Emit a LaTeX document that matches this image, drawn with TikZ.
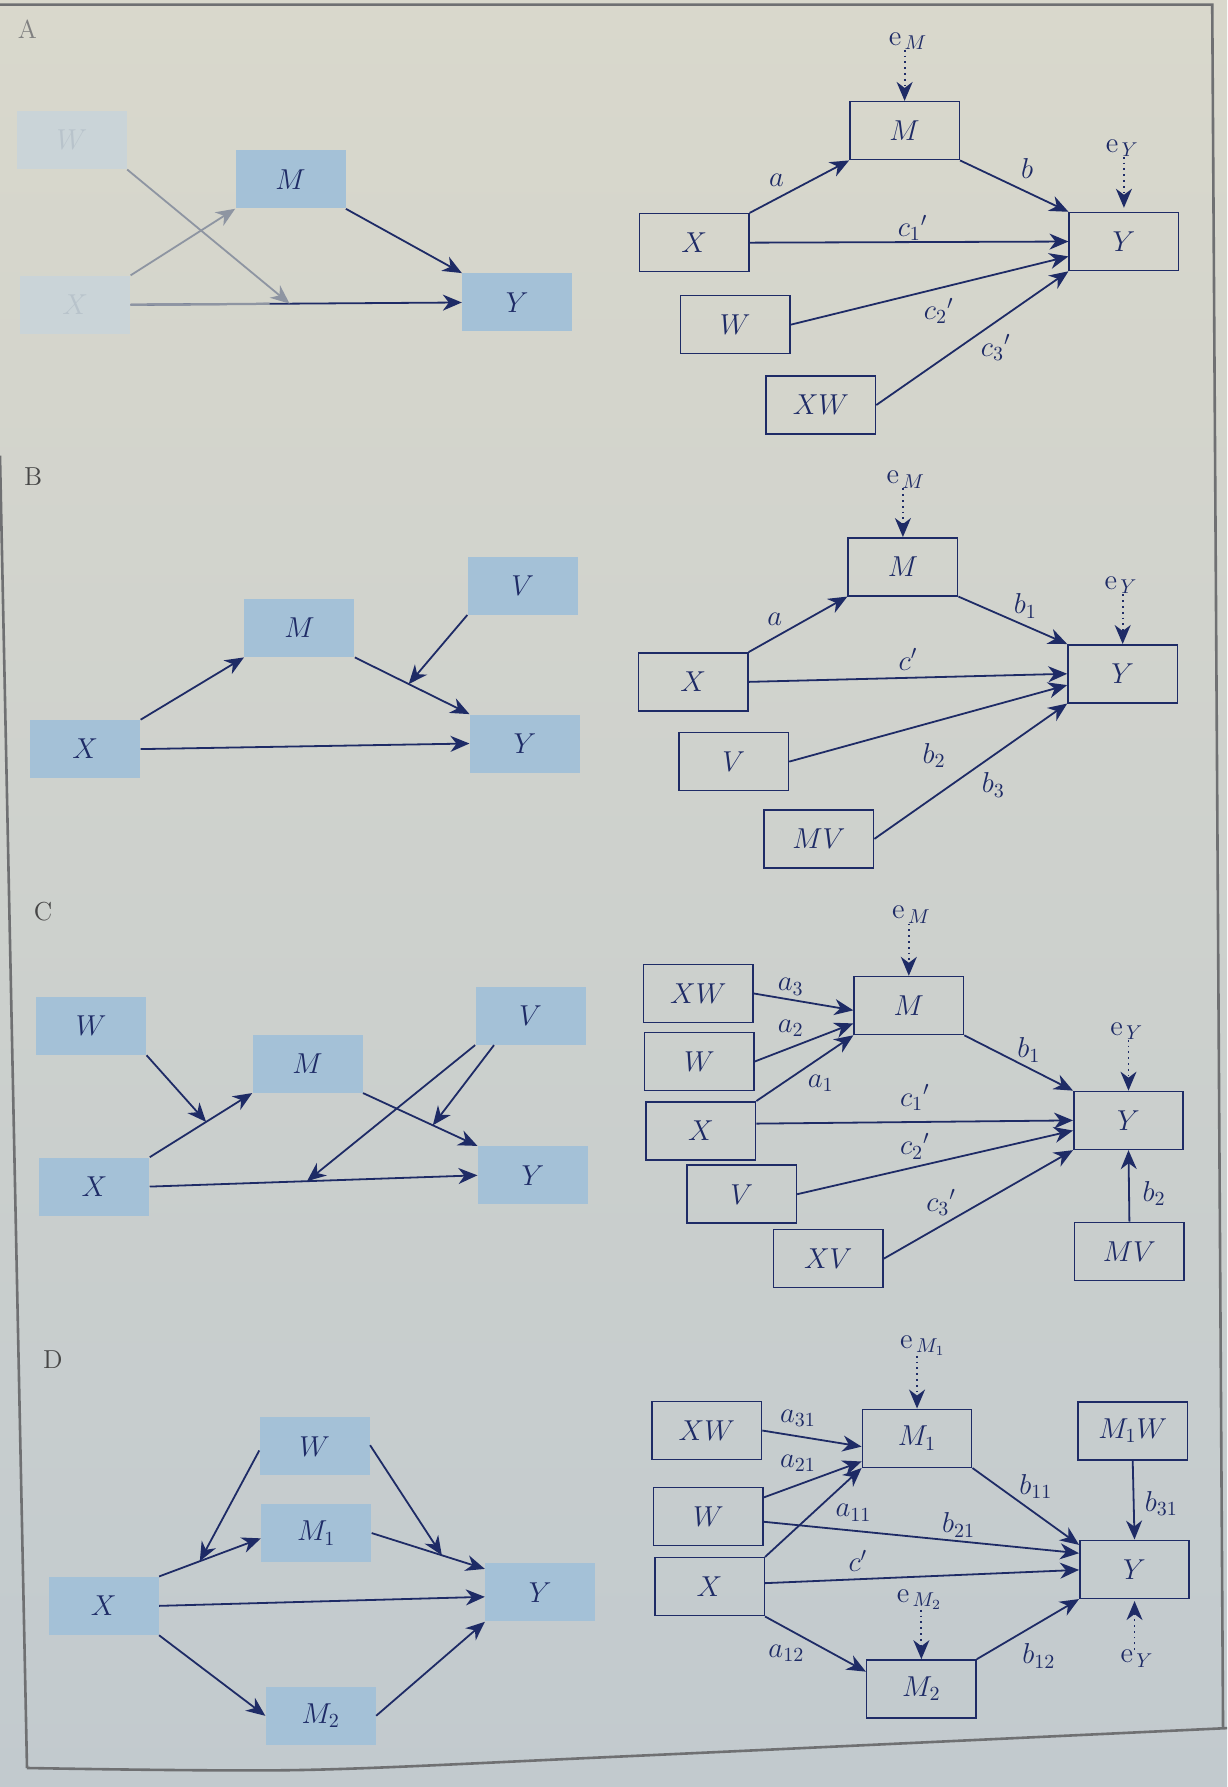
\documentclass[tikz,border=0pt]{standalone}
\usetikzlibrary{arrows.meta,calc}
\definecolor{ink}{HTML}{1E2B66}
\definecolor{boxblue}{HTML}{A4C1D7}
\definecolor{paperTop}{HTML}{D9D8CC}
\definecolor{paperBot}{HTML}{C2CACE}
\definecolor{framegray}{HTML}{6F7072}
\definecolor{fadebox}{HTML}{CAD4D8}
\definecolor{fadetext}{HTML}{B8C3CB}
\definecolor{fadeline}{HTML}{8E95A2}
\begin{document}
\begin{tikzpicture}[x=0.5696pt,y=-0.5696pt,
  every node/.style={font=\Large, text=ink},
  bluebox/.style={fill=boxblue, minimum width=55pt, minimum height=29pt, inner sep=0pt},
  linebox/.style={draw=ink, line width=0.75pt, minimum width=54.7pt, minimum height=29pt, inner sep=0pt},
  arr/.style={draw=ink, line width=0.9pt, -{Stealth[length=9.5pt,width=8pt,inset=3pt]}},
  darr/.style={arr, dotted},
  lab/.style={inner sep=0pt},
  panel/.style={font=\fontsize{13}{15}\selectfont, text=black!72}
]
% background and page frame
\shade[top color=paperTop, bottom color=paperBot] (0,0) rectangle (1077,1568.5);
\useasboundingbox (0,0) rectangle (1077,1568.5);
\draw[framegray, line width=1.3pt] (0,400) -- (23.7,1551.8);
\draw[framegray, line width=1.3pt] (0,4) -- (1064,4) -- (1073.5,1517);
\draw[framegray, line width=1.3pt] plot[smooth] coordinates {(23.7,1551.8) (263,1553.6) (539,1542) (1077,1516.8)};

% ---------------- Panel A ----------------
\node[panel, text=black!50] (labA) at (24,26) {A};
\node[bluebox, fill=fadebox, text=fadetext] (AW) at (63,123) {$W$};
\node[bluebox] (AM) at (255,157.5) {$M$};
\node[bluebox, fill=fadebox, text=fadetext] (AX) at (66,267.5) {$X$};
\node[bluebox] (AY) at (454,265.5) {$Y$};
\draw[arr] (AM.south east) -- (AY.north west);
\draw[arr] (AX.east) -- (AY.west);
\draw[line width=1.1pt, fadeline] (AX.east) -- ($(AX.east)!0.42!(AY.west)$);
\draw[arr, draw=fadeline] (AW.south east) -- ($(AX.east)!0.48!(AY.west)$);
\draw[arr, draw=fadeline] (AX.north east) -- (AM.south west);

\node[linebox] (AM2) at (794,114.7) {$M$};
\node[linebox] (AX2) at (609.3,213) {$X$};
\node[linebox] (AY2) at (986.5,212) {$Y$};
\node[linebox] (AW2) at (645.3,285) {$W$};
\node[linebox] (AXW2) at (720.5,355.5) {$XW$};
\node[lab] (AeM) at (797,36) {$\mathrm{e}_{\,M}$};
\node[lab] (AeY) at (985,130) {$\mathrm{e}_{\,Y}$};
\draw[darr] (AM2.north |- AeM.south) -- (AM2.north);
\draw[darr, shorten >=2pt] (AY2.north |- AeY.south) -- (AY2.north);
\draw[arr] (AX2.north east) -- (AM2.south west);
\draw[arr] (AM2.south east) -- (AY2.north west);
\draw[arr] (AX2.east) -- (AY2.west);
\draw[arr] (AW2.east) -- ($(AY2.west)!0.5!(AY2.south west)$);
\draw[arr] (AXW2.east) -- (AY2.south west);
\node[lab] (Aa) at (681.6,158) {$a$};
\node[lab] (Ab) at (901.6,148) {$b$};
\node[lab] (Ac1) at (801,200) {${c_1}'$};
\node[lab] (Ac2) at (824,273) {${c_2}'$};
\node[lab] (Ac3) at (874,305) {${c_3}'$};

% ---------------- Panel B ----------------
\node[panel] (labB) at (29,418.5) {B};
\node[bluebox] (BM) at (262.8,551.2) {$M$};
\node[bluebox] (BV) at (458.8,514) {$V$};
\node[bluebox] (BX) at (74.8,657.5) {$X$};
\node[bluebox] (BY) at (460.7,652.6) {$Y$};
\draw[arr] (BX.north east) -- (BM.south west);
\draw[arr] (BM.south east) -- (BY.north west);
\draw[arr] (BV.south west) -- ($(BM.south east)!0.47!(BY.north west)$);
\draw[arr] (BX.east) -- (BY.west);

\node[linebox] (BM2) at (792.5,497.5) {$M$};
\node[linebox] (BX2) at (608.4,598.5) {$X$};
\node[linebox] (BY2) at (985.4,591.4) {$Y$};
\node[linebox] (BV2) at (644,668.5) {$V$};
\node[linebox] (BMV2) at (718.8,736.3) {$MV$};
\node[lab] (BeM) at (795,421) {$\mathrm{e}_{\,M}$};
\node[lab] (BeY) at (984,514) {$\mathrm{e}_{\,Y}$};
\draw[darr] (BM2.north |- BeM.south) -- (BM2.north);
\draw[darr] (BY2.north |- BeY.south) -- (BY2.north);
\draw[arr] (BX2.north east) -- (BM2.south west);
\draw[arr] (BM2.south east) -- (BY2.north west);
\draw[arr] (BX2.east) -- (BY2.west);
\draw[arr] (BV2.east) -- ($(BY2.west)!0.38!(BY2.south west)$);
\draw[arr] (BMV2.east) -- (BY2.south west);
\node[lab] (Ba) at (680,543.5) {$a$};
\node[lab] (Bb1) at (900,532) {$b_1$};
\node[lab] (Bc) at (797,579) {$c'$};
\node[lab] (Bb2) at (820,663) {$b_2$};
\node[lab] (Bb3) at (872,689) {$b_3$};

% ---------------- Panel C ----------------
\node[panel] (labC) at (37.8,800) {C};
\node[bluebox] (CW) at (80,900.4) {$W$};
\node[bluebox] (CM) at (270,933.6) {$M$};
\node[bluebox] (CV) at (465.7,891.5) {$V$};
\node[bluebox] (CX) at (82.8,1041.5) {$X$};
\node[bluebox] (CY) at (467.7,1031.6) {$Y$};
\draw[arr] (CX.north east) -- (CM.south west);
\draw[arr] (CW.south east) -- ($(CX.north east)!0.55!(CM.south west)$);
\draw[arr] (CM.south east) -- (CY.north west);
\draw[arr] (CV.south west) -- ($(CX.east)!0.48!(CY.west)$);
\draw[arr] ($(CV.south west)!0.17!(CV.south east)$) -- ($(CM.south east)!0.61!(CY.north west)$);
\draw[arr] (CX.east) -- (CY.west);

\node[linebox] (CXW2) at (612.9,872) {$XW$};
\node[linebox] (CM2) at (797.7,882.6) {$M$};
\node[linebox] (CW2) at (613.8,931.7) {$W$};
\node[linebox] (CX2) at (615.2,992.5) {$X$};
\node[linebox] (CY2) at (990.5,983.4) {$Y$};
\node[linebox] (CV2) at (651,1048.2) {$V$};
\node[linebox] (CXV2) at (727,1104.8) {$XV$};
\node[linebox] (CMV2) at (991.3,1098.3) {$MV$};
\node[lab] (CeM) at (800,803) {$\mathrm{e}_{\,M}$};
\node[lab] (CeY) at (989,905) {$\mathrm{e}_{\,Y}$};
\draw[darr] (CM2.north |- CeM.south) -- (CM2.north);
\draw[darr] (CY2.north |- CeY.south) -- (CY2.north);
\draw[arr] (CXW2.east) -- ($(CM2.north west)!0.58!(CM2.south west)$);
\draw[arr] (CW2.east) -- ($(CM2.north west)!0.8!(CM2.south west)$);
\draw[arr] (CX2.north east) -- (CM2.south west);
\draw[arr] (CM2.south east) -- (CY2.north west);
\draw[arr] ($(CX2.north east)!0.38!(CX2.south east)$) -- (CY2.west);
\draw[arr] (CV2.east) -- ($(CY2.north west)!0.67!(CY2.south west)$);
\draw[arr] (CXV2.east) -- (CY2.south west);
\draw[arr] (CMV2.north) -- (CY2.south);
\node[lab] (Ca3) at (694,866) {$a_3$};
\node[lab] (Ca2) at (694,902.6) {$a_2$};
\node[lab] (Ca1) at (720.4,950.8) {$a_1$};
\node[lab] (Cb1) at (903,921.6) {$b_1$};
\node[lab] (Cc1) at (803,963.5) {${c_1}'$};
\node[lab] (Cc2) at (803,1006) {${c_2}'$};
\node[lab] (Cc3) at (826,1055.6) {${c_3}'$};
\node[lab] (Cb2) at (1013,1047.4) {$b_2$};

% ---------------- Panel D ----------------
\node[panel] (labD) at (46.4,1193) {D};
\node[bluebox] (DW) at (276.2,1269.5) {$W$};
\node[bluebox] (DM1) at (277.6,1345.6) {$M_1$};
\node[bluebox] (DX) at (91,1409.5) {$X$};
\node[bluebox] (DY) at (474.2,1397.7) {$Y$};
\node[bluebox] (DM2) at (281.5,1506) {$M_2$};
\coordinate (DM1in) at ($(DM1.north west)!0.59!(DM1.south west)$);
\coordinate (DYin) at ($(DY.north west)!0.1!(DY.south west)$);
\draw[arr] (DX.north east) -- (DM1in);
\draw[arr] ($(DW.north west)!0.57!(DW.south west)$) -- ($(DX.north east)!0.4!(DM1in)$);
\draw[arr] (DM1.east) -- (DYin);
\draw[arr] ($(DW.north east)!0.48!(DW.south east)$) -- ($(DM1.east)!0.62!(DYin)$);
\draw[arr] (DX.east) -- ($(DY.west)!0.15!(DY.south west)$);
\draw[arr] (DX.south east) -- (DM2.west);
\draw[arr] (DM2.east) -- (DY.south west);

\node[linebox] (DXW2) at (620.4,1255.6) {$XW$};
\node[linebox] (DM12) at (804.9,1262.4) {$M_1$};
\node[linebox] (DM1W2) at (994.2,1255.9) {$M_1W$};
\node[linebox] (DW2) at (621.8,1331) {$W$};
\node[linebox] (DX2) at (622.8,1392.7) {$X$};
\node[linebox] (DY2) at (995.8,1377.4) {$Y$};
\node[linebox] (DM22) at (808.7,1482.4) {$M_2$};
\node[lab] (DeM1) at (810,1181) {$\mathrm{e}_{\,M_1}$};
\node[lab] (DeM2) at (807,1404) {$\mathrm{e}_{\,M_2}$};
\node[lab] (DeY) at (998,1456) {$\mathrm{e}_{\,Y}$};
\draw[darr] (DM12.north |- DeM1.south) -- (DM12.north);
\draw[darr] (DM22.north |- DeM2.south) -- (DM22.north);
\draw[darr, shorten >=1pt] (DY2.south |- DeY.north) -- (DY2.south);
\draw[arr] (DXW2.east) -- ($(DM12.north west)!0.64!(DM12.south west)$);
\draw[arr] ($(DW2.north east)!0.18!(DW2.south east)$) -- ($(DM12.north west)!0.89!(DM12.south west)$);
\draw[arr] (DX2.north east) -- (DM12.south west);
\draw[arr] ($(DW2.north east)!0.59!(DW2.south east)$) -- ($(DY2.north west)!0.23!(DY2.south west)$);
\draw[arr] (DM12.south east) -- ($(DY2.north west)!0.09!(DY2.south west)$);
\draw[arr] ($(DX2.north east)!0.44!(DX2.south east)$) -- ($(DY2.north west)!0.51!(DY2.south west)$);
\draw[arr] (DX2.south east) -- ($(DM22.north west)!0.21!(DM22.south west)$);
\draw[arr] (DM22.north east) -- (DY2.south west);
\draw[arr] (DM1W2.south) -- (DY2.north);
\node[lab] (Da31) at (700.4,1245) {$a_{31}$};
\node[lab] (Da21) at (700.4,1284.4) {$a_{21}$};
\node[lab] (Da11) at (749.2,1327.7) {$a_{11}$};
\node[lab] (Db21) at (841.4,1338.5) {$b_{21}$};
\node[lab] (Db11) at (909.3,1305) {$b_{11}$};
\node[lab] (Db31) at (1019.4,1319.5) {$b_{31}$};
\node[lab] (Dc) at (753,1370) {$c'$};
\node[lab] (Da12) at (690.2,1451) {$a_{12}$};
\node[lab] (Db12) at (911.8,1453.6) {$b_{12}$};
\end{tikzpicture}
\end{document}
